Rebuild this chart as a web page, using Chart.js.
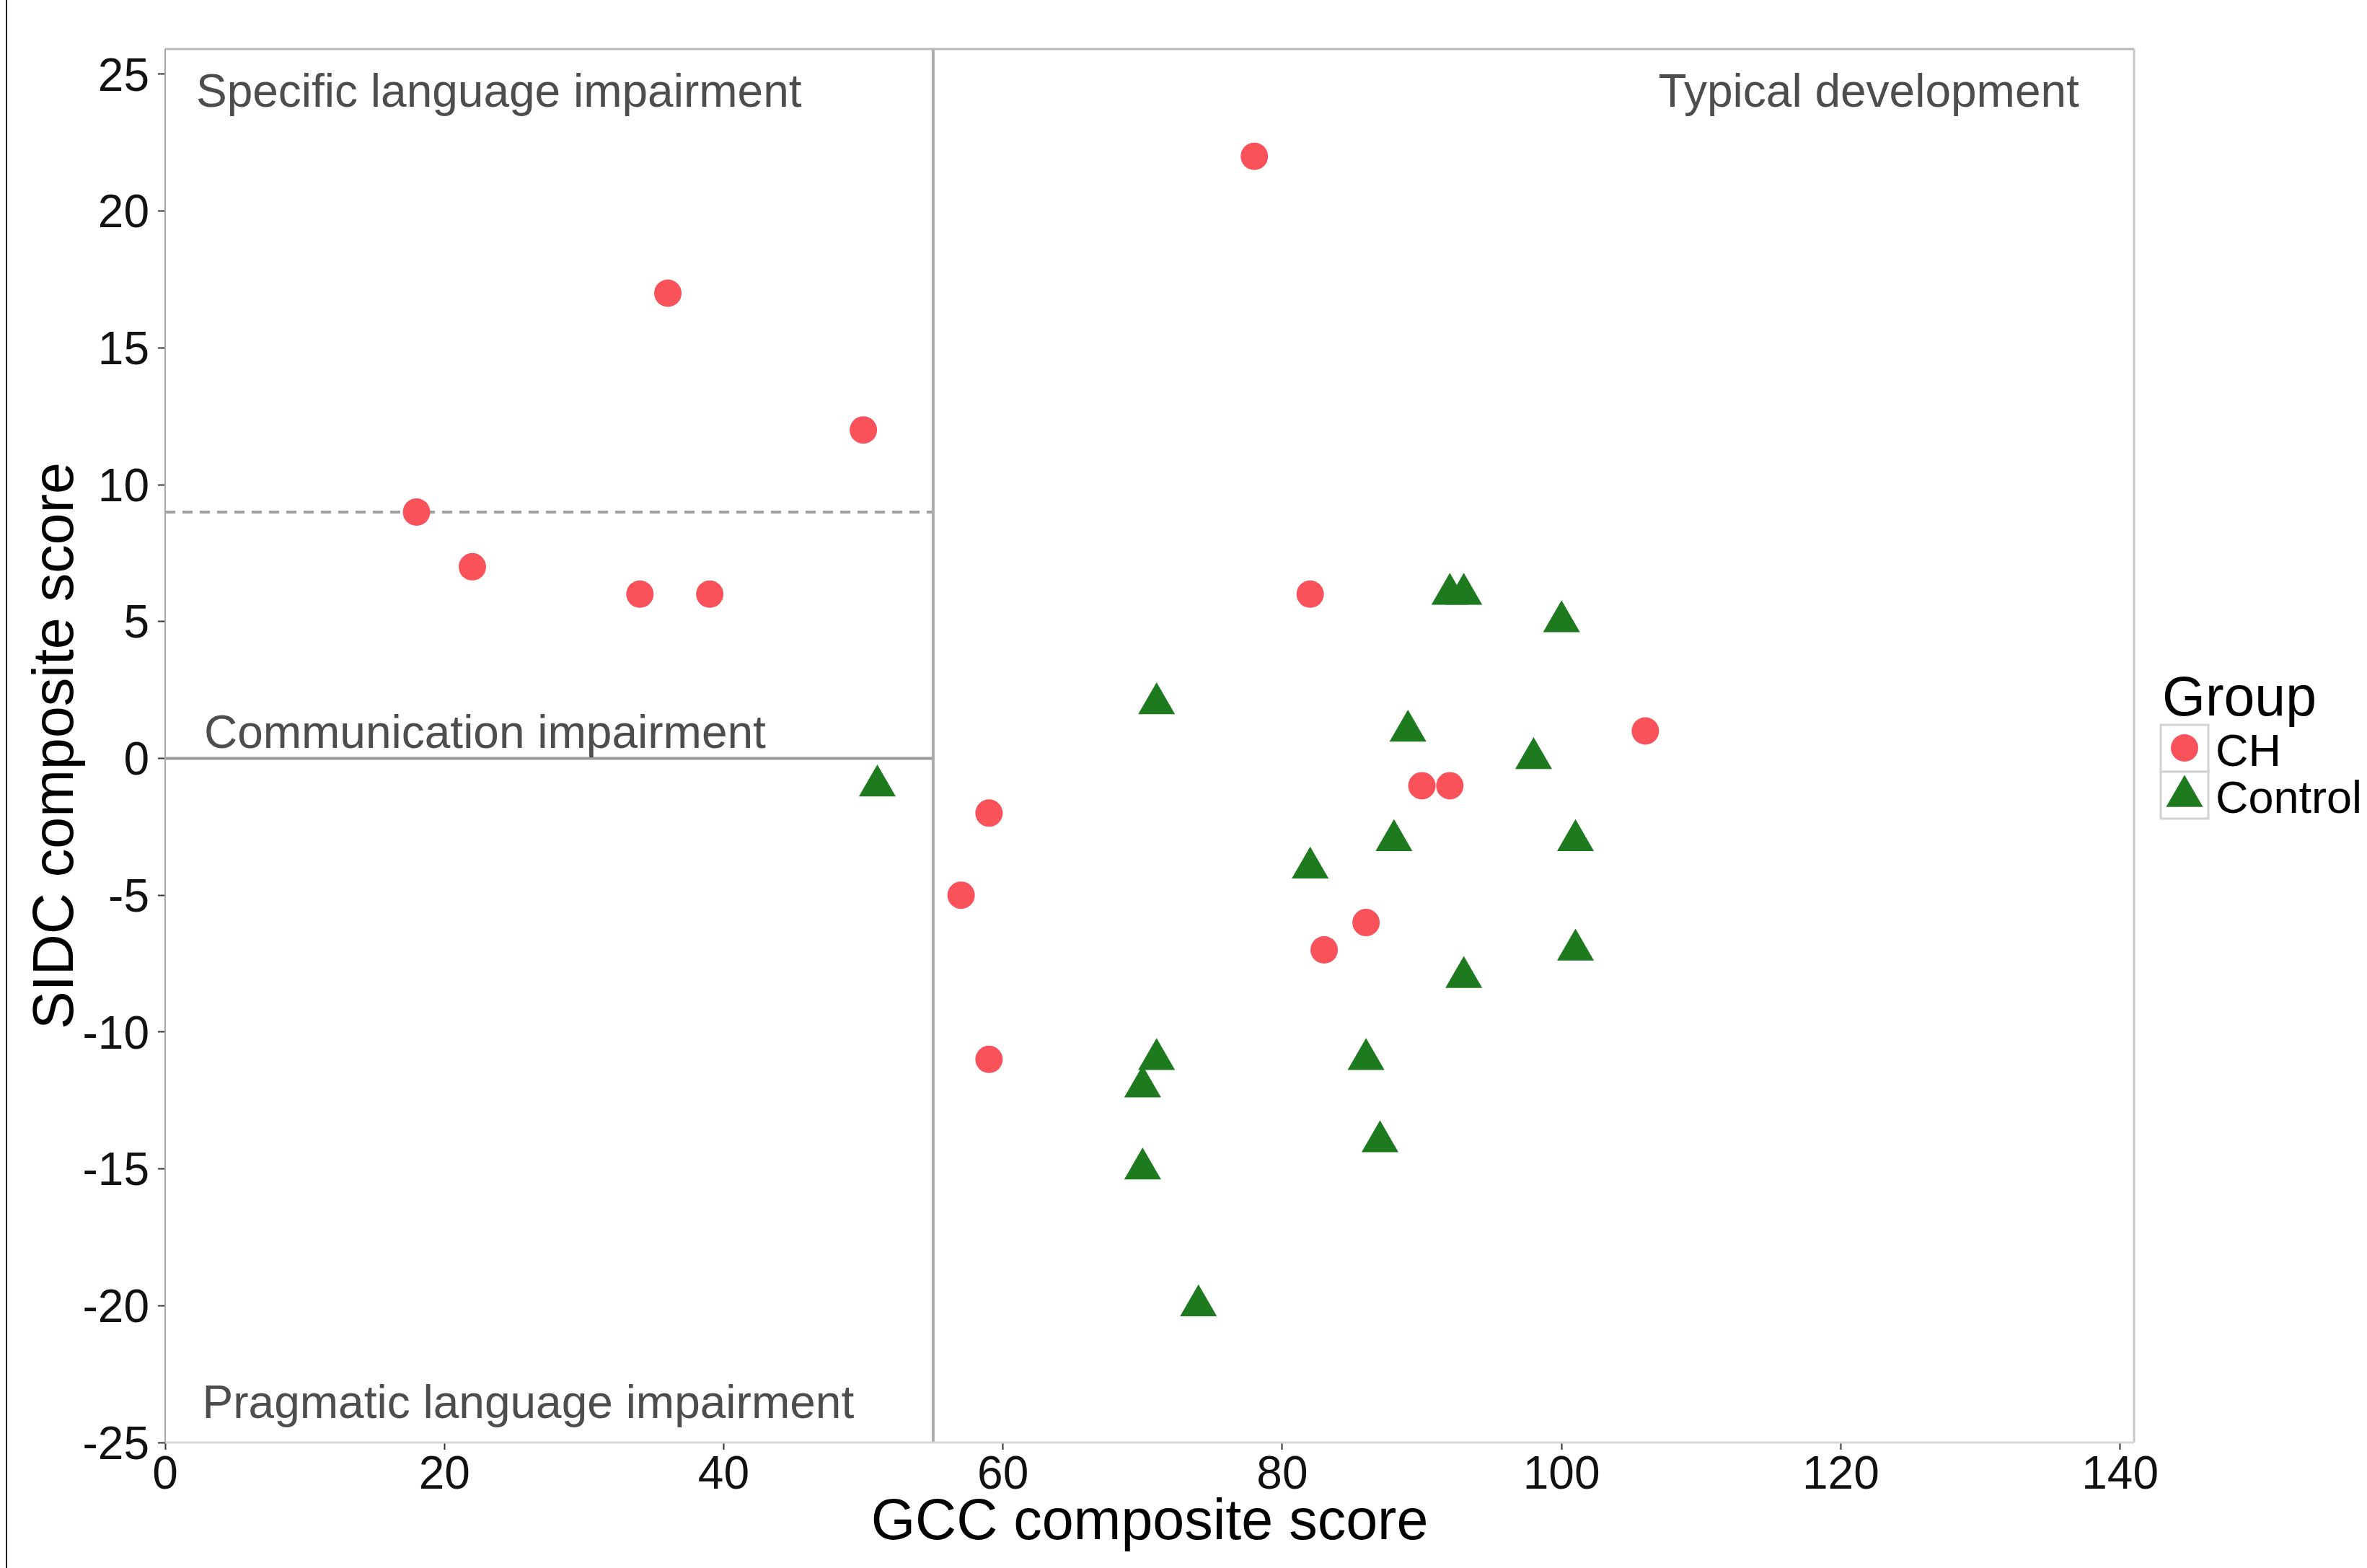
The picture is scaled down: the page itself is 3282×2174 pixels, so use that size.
<!DOCTYPE html>
<html>
<head>
<meta charset="utf-8">
<title>GCC vs SIDC composite scores</title>
<script src="https://cdn.jsdelivr.net/npm/chart.js@4.4.1/dist/chart.umd.min.js"></script>
<style>
  html, body { margin: 0; padding: 0; background: #fff; }
  #wrap { width: 3282px; height: 2174px; }
</style>
</head>
<body>
<div id="wrap"><canvas id="chartScatter" width="3282" height="2174"></canvas></div>
<script>
// CH group (GCC composite, SIDC composite)
const chGcc  = [18, 22, 34, 36, 39, 50, 57, 59, 59, 78, 82, 83, 86, 90, 92, 106];
const chSidc = [9, 7, 6, 17, 6, 12, -5, -2, -11, 22, 6, -7, -6, -1, -1, 1];

// Control group
const controlGcc  = [51, 70, 70, 71, 71, 74, 82, 86, 87, 88, 89, 92, 93, 93, 98, 100, 101, 101];
const controlSidc = [-1, -12, -15, 2, -11, -20, -4, -11, -14, -3, 1, 6, 6, -8, 0, 5, -3, -7];

const groupNames = ["CH", "Control"];

// axes
const xTicks = [0, 20, 40, 60, 80, 100, 120, 140];
const yTicks = [-25, -20, -15, -10, -5, 0, 5, 10, 15, 20, 25];
const xMin = 0, xMax = 141;
const yMin = -25, yMax = 25.92;

// cut-offs
const gccCutoff = 55;
const sidcCutoff = 0;
const sidcDashed = 9;

// quadrant labels
const quadText = ["Specific language impairment", "Typical development", "Communication impairment", "Pragmatic language impairment"];
const quadX = [23.9, 122, 22.9, 26];
const quadY = [23.8, 23.8, 0.37, -24.1];

const FONT = "'Liberation Sans', Arial, Helvetica, sans-serif";
const chColor = "#F9525A";
const controlColor = "#1E7A1E";

const toPoints = (xs, ys) => xs.map((x, i) => ({ x: x, y: ys[i] }));

function markerPath(ctx, style, r, x, y) {
  if (Chart.helpers && Chart.helpers.drawPoint) {
    Chart.helpers.drawPoint(ctx, { pointStyle: style, radius: r, rotation: 0, borderWidth: 0 }, x, y);
    return;
  }
  ctx.beginPath();
  if (style === "triangle") {
    ctx.moveTo(x, y - r);
    ctx.lineTo(x + r * Math.sin(2 * Math.PI / 3), y - r * Math.cos(2 * Math.PI / 3));
    ctx.lineTo(x + r * Math.sin(4 * Math.PI / 3), y - r * Math.cos(4 * Math.PI / 3));
    ctx.closePath();
  } else {
    ctx.arc(x, y, r, 0, Math.PI * 2);
  }
  ctx.fill();
}

const decor = {
  id: "decor",
  beforeDraw(chart) {
    const { ctx, width, height } = chart;
    ctx.save();
    ctx.fillStyle = "#ffffff";
    ctx.fillRect(0, 0, width, height);
    // left edge of the original figure
    ctx.fillStyle = "#222222";
    ctx.fillRect(8, 0, 2, height);
    ctx.restore();
  },
  afterDraw(chart) {
    const { ctx, chartArea: a, scales } = chart;
    ctx.save();

    // panel border
    ctx.lineWidth = 3;
    ctx.strokeStyle = "#b8b8b8";
    ctx.beginPath(); ctx.moveTo(a.left, a.top); ctx.lineTo(a.right, a.top); ctx.stroke();
    ctx.strokeStyle = "#c8c8c8";
    ctx.beginPath(); ctx.moveTo(a.right, a.top); ctx.lineTo(a.right, a.bottom); ctx.stroke();
    ctx.strokeStyle = "#d6d6d6";
    ctx.beginPath(); ctx.moveTo(a.left, a.bottom); ctx.lineTo(a.right, a.bottom); ctx.stroke();
    ctx.lineWidth = 2;
    ctx.strokeStyle = "#a8a8a8";
    ctx.beginPath(); ctx.moveTo(a.left, a.top); ctx.lineTo(a.left, a.bottom); ctx.stroke();

    // quadrant labels
    ctx.fillStyle = "#4d4d4d";
    ctx.font = "64px " + FONT;
    ctx.textAlign = "center";
    ctx.textBaseline = "alphabetic";
    quadText.forEach((t, i) => {
      ctx.fillText(t, scales.x.getPixelForValue(quadX[i]), scales.y.getPixelForValue(quadY[i]));
    });

    // legend (ggplot style key boxes)
    const lx = 2996, ly = 1005, kw = 66, kh = 65;
    ctx.fillStyle = "#000000";
    ctx.textAlign = "left";
    ctx.font = "77px " + FONT;
    ctx.fillText("Group", 2998, 992);
    ctx.font = "63px " + FONT;
    chart.data.datasets.slice(0, 2).forEach((ds, i) => {
      const top = ly + i * kh;
      ctx.fillStyle = "#ffffff";
      ctx.fillRect(lx, top, kw, kh);
      ctx.strokeStyle = "#d2d2d2";
      ctx.lineWidth = 3;
      ctx.strokeRect(lx, top, kw, kh);
      ctx.fillStyle = ds.pointBackgroundColor;
      markerPath(ctx, ds.pointStyle, ds.pointRadius, lx + kw / 2, ds.pointStyle === "triangle" ? top + 34 : top + 32);
      ctx.fillStyle = "#000000";
      ctx.fillText(ds.label, 3072, top + 57);
    });
    ctx.restore();
  }
};

const lineStyle = {
  type: "scatter",
  showLine: true,
  pointRadius: 0,
  pointHoverRadius: 0,
  borderWidth: 4,
  order: 2
};

const canvas = document.getElementById("chartScatter");

new Chart(canvas, {
  type: "scatter",
  data: {
    datasets: [
      {
        label: groupNames[0],
        data: toPoints(chGcc, chSidc),
        pointStyle: "circle",
        pointRadius: 19,
        pointHoverRadius: 19,
        pointBackgroundColor: chColor,
        pointBorderWidth: 0,
        order: 0
      },
      {
        label: groupNames[1],
        data: toPoints(controlGcc, controlSidc),
        pointStyle: "triangle",
        pointRadius: 29.5,
        pointHoverRadius: 29.5,
        pointBackgroundColor: controlColor,
        pointBorderWidth: 0,
        order: 0
      },
      Object.assign({}, lineStyle, {
        label: "gcc cutoff",
        data: [{ x: gccCutoff, y: yMin }, { x: gccCutoff, y: yMax }],
        borderColor: "#ababab",
        borderWidth: 4
      }),
      Object.assign({}, lineStyle, {
        label: "sidc cutoff",
        data: [{ x: xMin, y: sidcCutoff }, { x: gccCutoff, y: sidcCutoff }],
        borderColor: "#9a9a9a",
        borderWidth: 4
      }),
      Object.assign({}, lineStyle, {
        label: "sidc dashed",
        data: [{ x: xMin, y: sidcDashed }, { x: gccCutoff, y: sidcDashed }],
        borderColor: "#a0a0a0",
        borderDash: [14, 10],
        borderWidth: 4
      })
    ]
  },
  options: {
    responsive: false,
    animation: false,
    events: [],
    layout: { padding: { top: 68, right: 323, bottom: 0, left: 0 } },
    plugins: {
      legend: { display: false },
      tooltip: { enabled: false }
    },
    scales: {
      x: {
        type: "linear",
        min: xMin,
        max: xMax,
        afterBuildTicks(scale) { scale.ticks = xTicks.map(v => ({ value: v })); },
        afterFit(scale) { scale.height = 174; },
        border: { display: false },
        grid: { drawOnChartArea: false, drawTicks: true, tickLength: 10, tickWidth: 2, tickColor: "#333333" },
        ticks: {
          padding: 4,
          color: "#111111",
          font: { family: FONT, size: 64, lineHeight: 1 },
          maxRotation: 0,
          callback: v => String(v)
        },
        title: {
          display: true,
          text: "GCC composite score",
          color: "#000000",
          font: { family: FONT, size: 79 },
          padding: { top: 0, bottom: 14 }
        }
      },
      y: {
        type: "linear",
        min: yMin,
        max: yMax,
        afterBuildTicks(scale) { scale.ticks = yTicks.map(v => ({ value: v })); },
        afterFit(scale) { scale.width = 229; },
        border: { display: false },
        grid: { drawOnChartArea: false, drawTicks: true, tickLength: 10, tickWidth: 2, tickColor: "#333333" },
        ticks: {
          padding: 12,
          labelOffset: 5,
          color: "#111111",
          font: { family: FONT, size: 64, lineHeight: 1 },
          callback: v => String(v)
        },
        title: {
          display: true,
          text: "SIDC composite score",
          color: "#000000",
          font: { family: FONT, size: 79 },
          padding: { top: 32, bottom: 0 }
        }
      }
    }
  },
  plugins: [decor]
});
</script>
</body>
</html>
